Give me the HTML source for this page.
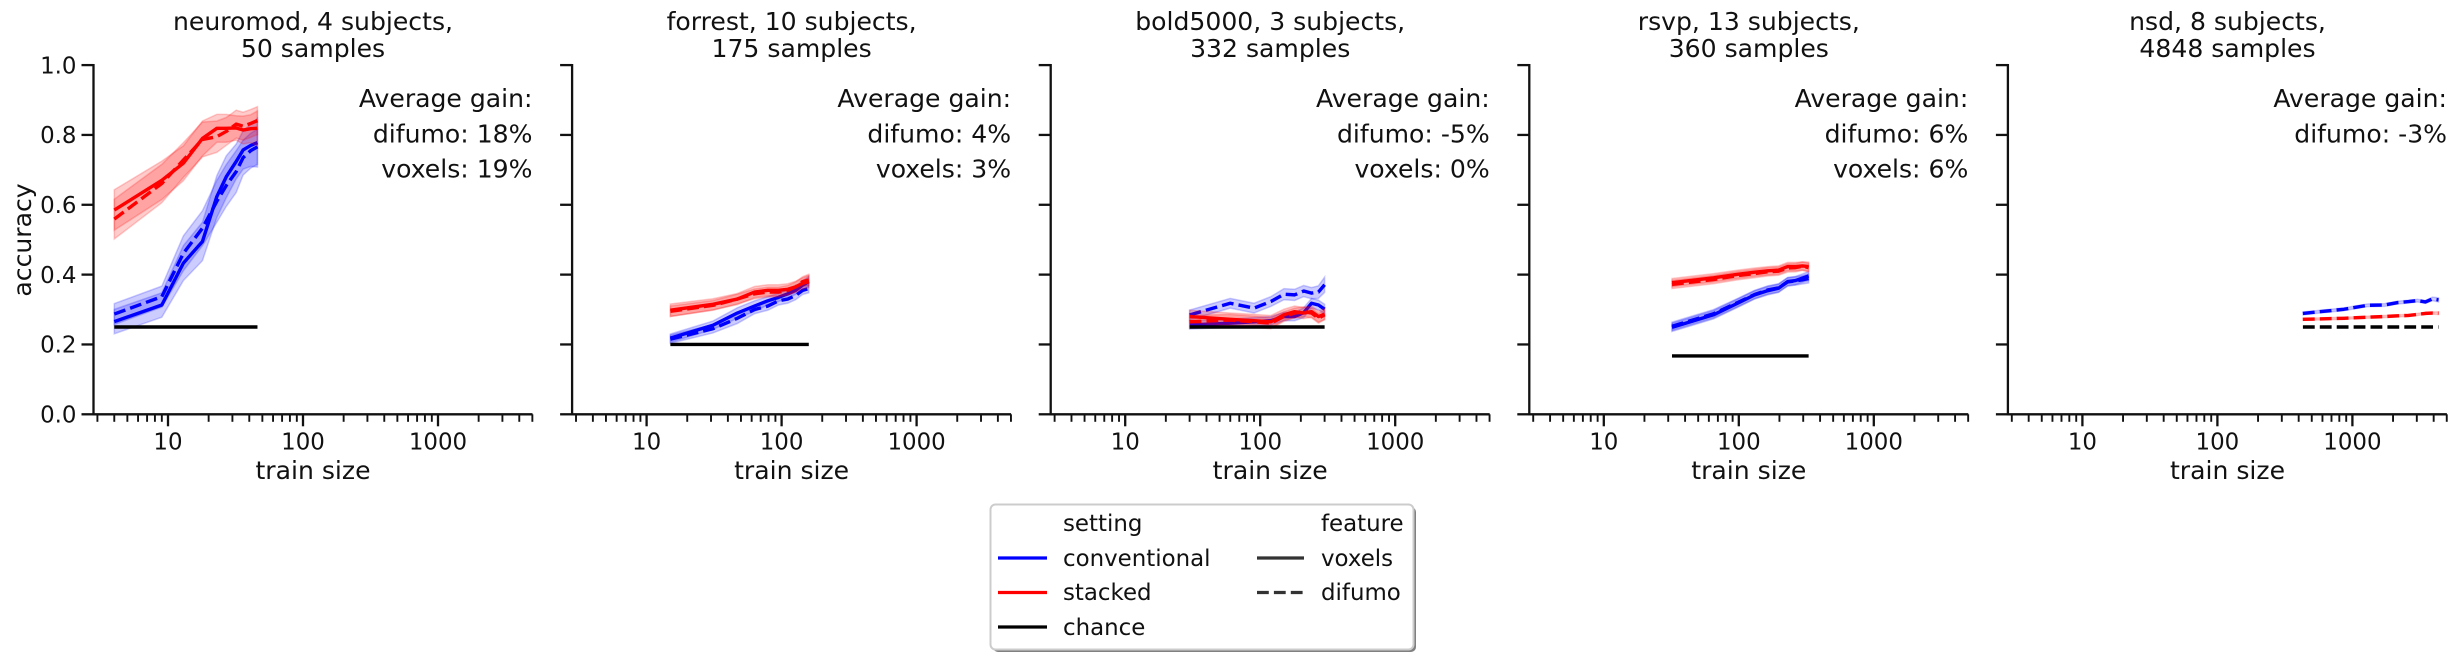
<!DOCTYPE html>
<html lang="en">
<head>
<meta charset="utf-8">
<title>Accuracy versus train size</title>
<style>
html,body{margin:0;padding:0;background:#fff;width:2455px;height:659px;overflow:hidden}
svg{display:block}
text{font-family:"DejaVu Sans","Liberation Sans",sans-serif;fill:#111}
.title,.axis-label,.note{font-size:25.1px}
.tick,.legend-text{font-size:22.9px}
</style>
</head>
<body>
<svg id="chart" xmlns="http://www.w3.org/2000/svg" width="2455" height="659" viewBox="0 0 2455 659">
<rect x="0" y="0" width="2455" height="659" fill="#fff"/>

<g id="panel0">
<text class="title" x="313" y="30" text-anchor="middle">neuromod, 4 subjects,</text>
<text class="title" x="313" y="57" text-anchor="middle">50 samples</text>
<text class="axis-label" x="313" y="479" text-anchor="middle">train size</text>
<text class="axis-label" x="0" y="0" text-anchor="middle" transform="translate(31,240) rotate(-90)">accuracy</text>
<text class="note" x="532.5" y="107" text-anchor="end">Average gain:</text>
<text class="note" x="532.5" y="142.5" text-anchor="end">difumo: 18%</text>
<text class="note" x="532.5" y="177.5" text-anchor="end">voxels: 19%</text>
</g>

<g id="panel1">
<text class="title" x="791.6" y="30" text-anchor="middle">forrest, 10 subjects,</text>
<text class="title" x="791.6" y="57" text-anchor="middle">175 samples</text>
<text class="axis-label" x="791.6" y="479" text-anchor="middle">train size</text>
<text class="note" x="1011.1" y="107" text-anchor="end">Average gain:</text>
<text class="note" x="1011.1" y="142.5" text-anchor="end">difumo: 4%</text>
<text class="note" x="1011.1" y="177.5" text-anchor="end">voxels: 3%</text>
</g>

<g id="panel2">
<text class="title" x="1270.2" y="30" text-anchor="middle">bold5000, 3 subjects,</text>
<text class="title" x="1270.2" y="57" text-anchor="middle">332 samples</text>
<text class="axis-label" x="1270.2" y="479" text-anchor="middle">train size</text>
<text class="note" x="1489.7" y="107" text-anchor="end">Average gain:</text>
<text class="note" x="1489.7" y="142.5" text-anchor="end">difumo: -5%</text>
<text class="note" x="1489.7" y="177.5" text-anchor="end">voxels: 0%</text>
</g>

<g id="panel3">
<text class="title" x="1748.8" y="30" text-anchor="middle">rsvp, 13 subjects,</text>
<text class="title" x="1748.8" y="57" text-anchor="middle">360 samples</text>
<text class="axis-label" x="1748.8" y="479" text-anchor="middle">train size</text>
<text class="note" x="1968.3" y="107" text-anchor="end">Average gain:</text>
<text class="note" x="1968.3" y="142.5" text-anchor="end">difumo: 6%</text>
<text class="note" x="1968.3" y="177.5" text-anchor="end">voxels: 6%</text>
</g>

<g id="panel4">
<text class="title" x="2227.5" y="30" text-anchor="middle">nsd, 8 subjects,</text>
<text class="title" x="2227.5" y="57" text-anchor="middle">4848 samples</text>
<text class="axis-label" x="2227.5" y="479" text-anchor="middle">train size</text>
<text class="note" x="2447" y="107" text-anchor="end">Average gain:</text>
<text class="note" x="2447" y="142.5" text-anchor="end">difumo: -3%</text>
</g>

<g>
<rect x="993" y="507" width="423" height="145" rx="5" fill="#808080"/>
<rect x="990.5" y="504.5" width="423" height="145" rx="5" fill="#fff" stroke="#cccccc" stroke-width="2"/>
<text class="legend-text" x="1063" y="531">setting</text>
<line x1="998" y1="558" x2="1047" y2="558" stroke="#0000ff" stroke-width="3.2"/>
<text class="legend-text" x="1063" y="566">conventional</text>
<line x1="998" y1="592.5" x2="1047" y2="592.5" stroke="#ff0000" stroke-width="3.2"/>
<text class="legend-text" x="1063" y="600">stacked</text>
<line x1="998" y1="627" x2="1047" y2="627" stroke="#000" stroke-width="3.2"/>
<text class="legend-text" x="1063" y="635">chance</text>
<text class="legend-text" x="1321" y="531">feature</text>
<line x1="1257" y1="558" x2="1304" y2="558" stroke="#333" stroke-width="3.2"/>
<text class="legend-text" x="1321" y="566">voxels</text>
<line x1="1257" y1="592.5" x2="1304" y2="592.5" stroke="#333" stroke-width="3.2" stroke-dasharray="11.8 5.1"/>
<text class="legend-text" x="1321" y="600">difumo</text>
</g>
</svg>

<script>
// ---- tick data ----
const yTicks = [0, 0.2, 0.4, 0.6, 0.8, 1.0];
const yTickLabels = ["0.0", "0.2", "0.4", "0.6", "0.8", "1.0"];
const xMajorTicks = [10, 100, 1000];
const xMajorLabels = ["10", "100", "1000"];
const xMinorTicks = [3, 4, 5, 6, 7, 8, 9, 20, 30, 40, 50, 60, 70, 80, 90, 200, 300, 400, 500, 600, 700, 800, 900, 2000, 3000, 4000, 5000];

// ---- neuromod ----
const neuromodSizes = [4, 9, 13, 18, 23, 27, 32, 36, 41, 46];
const neuromodChance = 0.25;
const neuromodBlueVoxels = [0.2655, 0.313, 0.433, 0.495, 0.6235, 0.68, 0.724, 0.757, 0.77, 0.778];
const neuromodBlueVoxelsErr = [0.035, 0.035, 0.05, 0.055, 0.06, 0.06, 0.05, 0.055, 0.06, 0.07];
const neuromodBlueDifumo = [0.287, 0.337, 0.461, 0.533, 0.61, 0.655, 0.695, 0.735, 0.755, 0.766];
const neuromodBlueDifumoErr = [0.03, 0.03, 0.05, 0.05, 0.06, 0.06, 0.06, 0.05, 0.05, 0.05];
const neuromodRedVoxels = [0.585, 0.67, 0.719, 0.79, 0.819, 0.819, 0.82, 0.814, 0.818, 0.819];
const neuromodRedVoxelsErr = [0.058, 0.055, 0.05, 0.05, 0.04, 0.04, 0.035, 0.04, 0.04, 0.05];
const neuromodRedDifumo = [0.559, 0.661, 0.728, 0.787, 0.795, 0.81, 0.831, 0.825, 0.833, 0.841];
const neuromodRedDifumoErr = [0.057, 0.055, 0.05, 0.05, 0.045, 0.04, 0.04, 0.04, 0.04, 0.04];

// ---- forrest ----
const forrestSizes = [15, 31, 47, 63, 79, 95, 111, 127, 143, 159];
const forrestChance = 0.2;
const forrestBlueVoxels = [0.218, 0.255, 0.29, 0.31, 0.325, 0.335, 0.345, 0.355, 0.37, 0.38];
const forrestBlueVoxelsErr = [0.012, 0.012, 0.015, 0.015, 0.012, 0.012, 0.012, 0.012, 0.012, 0.015];
const forrestBlueDifumo = [0.215, 0.245, 0.275, 0.30, 0.31, 0.325, 0.33, 0.34, 0.355, 0.36];
const forrestBlueDifumoErr = [0.012, 0.012, 0.015, 0.012, 0.012, 0.012, 0.012, 0.012, 0.012, 0.012];
const forrestRedVoxels = [0.298, 0.315, 0.33, 0.35, 0.355, 0.355, 0.358, 0.365, 0.375, 0.38];
const forrestRedVoxelsErr = [0.018, 0.016, 0.016, 0.016, 0.016, 0.016, 0.016, 0.016, 0.016, 0.018];
const forrestRedDifumo = [0.295, 0.312, 0.33, 0.345, 0.35, 0.35, 0.355, 0.365, 0.38, 0.385];
const forrestRedDifumoErr = [0.015, 0.014, 0.014, 0.014, 0.014, 0.014, 0.014, 0.014, 0.014, 0.016];

// ---- bold5000 ----
const boldSizes = [30, 60, 90, 120, 150, 180, 210, 240, 270, 300];
const boldChance = 0.25;
const boldBlueVoxels = [0.256, 0.261, 0.265, 0.268, 0.28, 0.28, 0.291, 0.318, 0.313, 0.301];
const boldBlueVoxelsErr = [0.012, 0.012, 0.012, 0.012, 0.012, 0.012, 0.014, 0.014, 0.014, 0.014];
const boldBlueDifumo = [0.2845, 0.318, 0.304, 0.323, 0.344, 0.342, 0.353, 0.347, 0.35, 0.371];
const boldBlueDifumoErr = [0.014, 0.014, 0.014, 0.014, 0.016, 0.016, 0.016, 0.016, 0.018, 0.022];
const boldRedVoxels = [0.28, 0.272, 0.268, 0.265, 0.285, 0.294, 0.29, 0.294, 0.28, 0.287];
const boldRedVoxelsErr = [0.018, 0.018, 0.018, 0.018, 0.016, 0.016, 0.016, 0.016, 0.016, 0.016];
const boldRedDifumo = [0.265, 0.27, 0.265, 0.261, 0.28, 0.29, 0.294, 0.29, 0.275, 0.285];
const boldRedDifumoErr = [0.018, 0.016, 0.016, 0.016, 0.014, 0.014, 0.014, 0.014, 0.014, 0.014];

// ---- rsvp ----
const rsvpSizes = [32, 65, 98, 131, 164, 197, 230, 263, 296, 329];
const rsvpChance = 0.167;
const rsvpBlueVoxels = [0.249, 0.285, 0.318, 0.342, 0.354, 0.361, 0.38, 0.383, 0.39, 0.396];
const rsvpBlueVoxelsErr = [0.012, 0.012, 0.012, 0.012, 0.012, 0.012, 0.012, 0.012, 0.012, 0.013];
const rsvpBlueDifumo = [0.252, 0.288, 0.32, 0.343, 0.356, 0.362, 0.379, 0.382, 0.385, 0.389];
const rsvpBlueDifumoErr = [0.012, 0.012, 0.012, 0.012, 0.012, 0.012, 0.012, 0.012, 0.012, 0.013];
const rsvpRedVoxels = [0.377, 0.391, 0.401, 0.407, 0.411, 0.413, 0.423, 0.423, 0.425, 0.423];
const rsvpRedVoxelsErr = [0.012, 0.012, 0.012, 0.012, 0.012, 0.012, 0.012, 0.012, 0.012, 0.013];
const rsvpRedDifumo = [0.372, 0.386, 0.397, 0.403, 0.408, 0.41, 0.419, 0.42, 0.424, 0.42];
const rsvpRedDifumoErr = [0.012, 0.012, 0.012, 0.012, 0.012, 0.012, 0.012, 0.012, 0.012, 0.013];

// ---- nsd ----
const nsdSizes = [430, 865, 1300, 1735, 2170, 2605, 3040, 3475, 3910, 4345];
const nsdChance = 0.25;
const nsdBlueDifumo = [0.289, 0.3008, 0.3122, 0.313, 0.32, 0.3227, 0.3256, 0.3217, 0.3304, 0.3276];
const nsdBlueDifumoErr = [0.004, 0.004, 0.004, 0.004, 0.004, 0.004, 0.004, 0.004, 0.005, 0.006];
const nsdRedDifumo = [0.272, 0.275, 0.278, 0.28, 0.282, 0.283, 0.286, 0.289, 0.29, 0.2895];
const nsdRedDifumoErr = [0.003, 0.003, 0.003, 0.003, 0.003, 0.003, 0.003, 0.003, 0.003, 0.004];

// ---- which arrays belong to which panel ----
const panelSizes = [neuromodSizes, forrestSizes, boldSizes, rsvpSizes, nsdSizes];
const panelChance = [neuromodChance, forrestChance, boldChance, rsvpChance, nsdChance];
const panelBlueVoxels = [[neuromodBlueVoxels, neuromodBlueVoxelsErr], [forrestBlueVoxels, forrestBlueVoxelsErr], [boldBlueVoxels, boldBlueVoxelsErr], [rsvpBlueVoxels, rsvpBlueVoxelsErr], null];
const panelBlueDifumo = [[neuromodBlueDifumo, neuromodBlueDifumoErr], [forrestBlueDifumo, forrestBlueDifumoErr], [boldBlueDifumo, boldBlueDifumoErr], [rsvpBlueDifumo, rsvpBlueDifumoErr], [nsdBlueDifumo, nsdBlueDifumoErr]];
const panelRedVoxels = [[neuromodRedVoxels, neuromodRedVoxelsErr], [forrestRedVoxels, forrestRedVoxelsErr], [boldRedVoxels, boldRedVoxelsErr], [rsvpRedVoxels, rsvpRedVoxelsErr], null];
const panelRedDifumo = [[neuromodRedDifumo, neuromodRedDifumoErr], [forrestRedDifumo, forrestRedDifumoErr], [boldRedDifumo, boldRedDifumoErr], [rsvpRedDifumo, rsvpRedDifumoErr], [nsdRedDifumo, nsdRedDifumoErr]];

// ---- axis functions ----
const SVG_NS = 'http://www.w3.org/2000/svg';
const PANEL_COUNT = 5;
const PANEL_STEP = 478.6;
const AXIS_LEFT = 93.5;
const DECADE = 135;
const X_OF_TEN = 74.5;
const PANEL_WIDTH = 439;
const AXIS_COLOR = '#111';

function panelLeft(p) { return AXIS_LEFT + p * PANEL_STEP; }
function xScale(p, size) { return panelLeft(p) + X_OF_TEN + DECADE * (Math.log10(size) - 1); }
function yScale(v) { return 414.3 - 349.2 * v; }

function make(parent, tag, attrs) {
  const node = document.createElementNS(SVG_NS, tag);
  for (const key in attrs) node.setAttribute(key, attrs[key]);
  parent.appendChild(node);
  return node;
}

function drawAxes(p, g) {
  const left = panelLeft(p);
  const base = yScale(0);
  let el;
  for (let i = 0; i < yTicks.length; i++) {
    const y = yScale(yTicks[i]);
    el = make(g, 'line', { x1: left - 12, y1: y, x2: left, y2: y, stroke: AXIS_COLOR, 'stroke-width': 2.3 });
    
    
    if (p === 0) {
      el = make(g, 'text', { x: left - 17, y: y + 8.2, 'text-anchor': 'end', class: 'tick' });
      el.textContent = yTickLabels[i];
      
      
    }
  }
  for (const size of xMinorTicks) {
    const x = xScale(p, size);
    el = make(g, 'line', { x1: x, y1: base, x2: x, y2: base + 7.5, stroke: AXIS_COLOR, 'stroke-width': 1.9 });
    
    
  }
  for (let i = 0; i < xMajorTicks.length; i++) {
    const x = xScale(p, xMajorTicks[i]);
    el = make(g, 'line', { x1: x, y1: base, x2: x, y2: base + 12, stroke: AXIS_COLOR, 'stroke-width': 2.3 });
    
    
    el = make(g, 'text', { x: x, y: base + 35, 'text-anchor': 'middle', class: 'tick' });
    el.textContent = xMajorLabels[i];
    
    
  }
  el = make(g, 'line', { x1: left, y1: yScale(1) - 1.1, x2: left, y2: base + 1.1, stroke: AXIS_COLOR, 'stroke-width': 2.3 });
  
  
  el = make(g, 'line', { x1: left, y1: base, x2: left + PANEL_WIDTH, y2: base, stroke: AXIS_COLOR, 'stroke-width': 2.3 });
  
  
}

function drawSeries(p, g, pair, color, dashed, name) {
  if (!pair) return;
  const sizes = panelSizes[p];
  const values = pair[0];
  const errs = pair[1];
  const upper = sizes.map((s, i) => xScale(p, s).toFixed(2) + ',' + yScale(values[i] + errs[i]).toFixed(2));
  const lower = sizes.map((s, i) => xScale(p, s).toFixed(2) + ',' + yScale(values[i] - errs[i]).toFixed(2)).reverse();
  const band = make(g, 'polygon', { points: upper.concat(lower).join(' '), fill: color, 'fill-opacity': 0.2, stroke: color, 'stroke-opacity': 0.2, 'stroke-width': 1.5 });
  
  
  const pts = sizes.map((s, i) => xScale(p, s).toFixed(2) + ',' + yScale(values[i]).toFixed(2)).join(' ');
  const line = make(g, 'polyline', { points: pts, fill: 'none', stroke: color, 'stroke-width': 3.4, 'stroke-linejoin': 'round' });
  if (dashed) line.setAttribute('stroke-dasharray', '11.8 5.1');
  
  
}

function drawChance(p, g) {
  const sizes = panelSizes[p];
  const y = yScale(panelChance[p]);
  const line = make(g, 'line', { x1: xScale(p, sizes[0]), y1: y, x2: xScale(p, sizes[sizes.length - 1]), y2: y, stroke: '#000', 'stroke-width': 3.4 });
  if (p === 4) line.setAttribute('stroke-dasharray', '11.8 5.1');
  
  
}

for (let p = 0; p < PANEL_COUNT; p++) {
  const g = document.getElementById('panel' + p);
  drawAxes(p, g);
  drawSeries(p, g, panelBlueVoxels[p], '#0000ff', false, 'conventional-voxels');
  drawSeries(p, g, panelBlueDifumo[p], '#0000ff', true, 'conventional-difumo');
  drawSeries(p, g, panelRedVoxels[p], '#ff0000', false, 'stacked-voxels');
  drawSeries(p, g, panelRedDifumo[p], '#ff0000', true, 'stacked-difumo');
  drawChance(p, g);
}
</script>
</body>
</html>
